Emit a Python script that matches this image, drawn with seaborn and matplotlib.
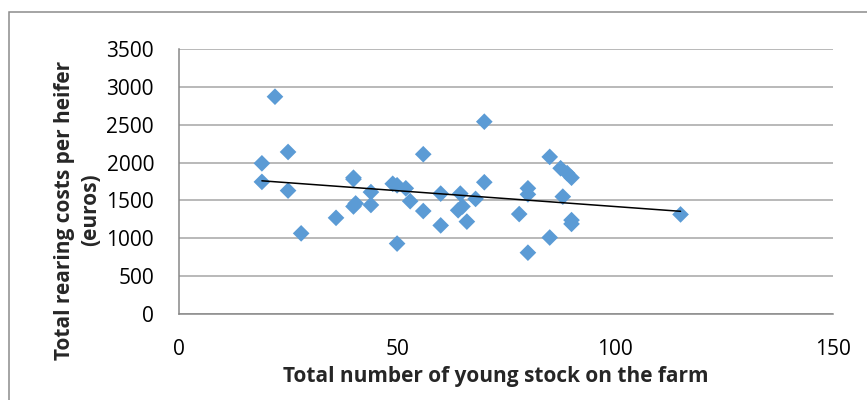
import numpy as np
import pandas as pd
import matplotlib
matplotlib.use("Agg")
import matplotlib.pyplot as plt
import seaborn as sns
from matplotlib.patches import Rectangle

# young stock on the farm vs total rearing costs per heifer
young_stock = [19, 19, 22, 25, 25, 28, 36, 40, 40, 40, 40.5, 44, 44, 49, 50, 50,
               52, 53, 56, 56, 60, 60, 64.5, 64, 65, 66, 68, 70, 70, 78, 80, 80,
               80, 85, 85, 87.5, 89, 90, 88, 90, 90, 115]
rearing_costs = [1990, 1745, 2870, 2140, 1630, 1065, 1270, 1800, 1780, 1420, 1460,
                 1610, 1440, 1720, 1700, 930, 1660, 1490, 2110, 1360, 1590, 1170,
                 1590, 1370, 1420, 1220, 1520, 2540, 1740, 1320, 1660, 1580, 810,
                 2075, 1010, 1925, 1860, 1800, 1550, 1240, 1190, 1315]
x_ticks = [0, 50, 100, 150]
y_ticks = [0, 500, 1000, 1500, 2000, 2500, 3000, 3500]

df = pd.DataFrame({"stock": young_stock, "cost": rearing_costs})

sns.set_style("white")
plt.rcParams["font.family"] = ["Open Sans", "DejaVu Sans"]

fig = plt.figure(figsize=(8.67, 4), dpi=100)
ax = fig.add_axes([0.2065, 0.215, 0.7545, 0.6625])

grid_col = "#a6a6a6"
ax.yaxis.grid(True, color=grid_col, linewidth=1.1)
ax.set_axisbelow(True)

sns.scatterplot(data=df, x="stock", y="cost", marker="D", s=72, color="#5b9bd5",
                edgecolor="none", ax=ax, zorder=3)
sns.regplot(data=df, x="stock", y="cost", scatter=False, ci=None, truncate=True,
            line_kws={"color": "black", "linewidth": 1.1, "zorder": 4}, ax=ax)

ax.set_xlim(0, 150)
ax.set_ylim(0, 3500)
ax.set_xticks(x_ticks)
ax.set_yticks(y_ticks)
ax.tick_params(axis="both", labelsize=15, colors="#888888", labelcolor="black",
               length=5, width=1.1, direction="out")
ax.tick_params(axis="x", pad=13)
ax.tick_params(axis="y", pad=13)
for side in ["top", "right"]:
    ax.spines[side].set_visible(False)
for side in ["left", "bottom"]:
    ax.spines[side].set_color("#888888")
    ax.spines[side].set_linewidth(1.1)

ax.set_xlabel("Total number of young stock on the farm", fontsize=15,
              fontweight="bold", labelpad=4)
ax.xaxis.label.set_x(0.484)
ax.set_ylabel("Total rearing costs per heifer\n(euros)", fontsize=15,
              fontweight="bold", labelpad=4, linespacing=1.3)
ax.yaxis.label.set_y(0.392)

# outer chart frame (right and bottom edges fall outside the image)
fig.patches.append(Rectangle((0.0104, -0.1), 1.2, 1.069, transform=fig.transFigure,
                             fill=False, edgecolor="#8c8c8c", linewidth=1.1))

fig.savefig("out.png", dpi=100)
